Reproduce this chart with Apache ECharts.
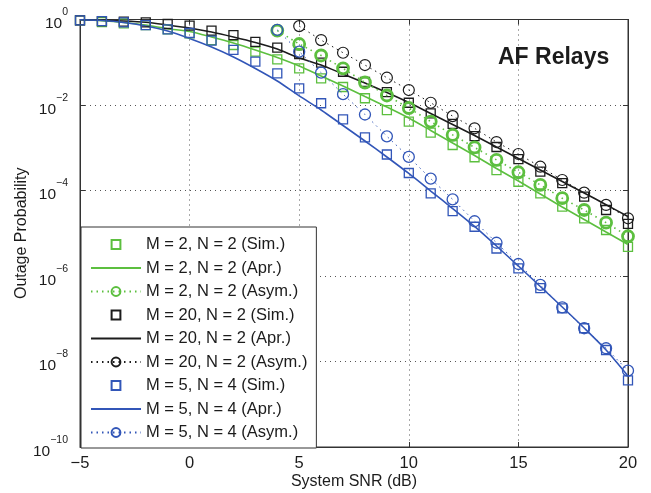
<!DOCTYPE html>
<html><head><meta charset="utf-8">
<script src="https://cdn.jsdelivr.net/npm/echarts@6/dist/echarts.min.js"></script>
<style>html,body{margin:0;padding:0;background:#fff}#c{width:651px;height:493px}</style>
</head><body><div id="c"></div>
<script>
// ---- data ----
const snr = [-5,-4,-3,-2,-1,0,1,2,3,4,5,6,7,8,9,10,11,12,13,14,15,16,17,18,19,20];
const xTicks = [-5,0,5,10,15,20];
const yTickExponents = [0,-2,-4,-6,-8,-10];

// M = 2, N = 2
const simM2N2 = [0.95,0.875,0.815,0.74,0.59,0.475,0.33,0.253,0.177,0.117,0.072,0.042,0.0264,0.0144,0.0076,0.0041,0.00225,0.00116,0.0006,0.0003,0.00016,8.6e-5,4.2e-5,2.24e-5,1.19e-5,4.8e-6];
const aprM2N2 = [0.984,0.933,0.851,0.743,0.609,0.524,0.39,0.282,0.194,0.129,0.0817,0.0477,0.0278,0.0158,0.00898,0.00497,0.00254,0.00129,0.000659,0.000327,0.000167,8.28e-5,4.11e-5,2.1e-5,1.07e-5,5.46e-6];
const asymSnrM2N2 = [4,5,6,7,8,9,10,11,12,13,14,15,16,17,18,19,20];
const asymM2N2 = [0.55,0.267,0.144,0.072,0.0336,0.0167,0.0085,0.0041,0.002,0.00102,0.00052,0.000267,0.000135,6.6e-5,3.5e-5,1.77e-5,8.5e-6];

// M = 20, N = 2
const simM20N2 = [0.95,0.92,0.89,0.86,0.785,0.72,0.55,0.43,0.30,0.22,0.156,0.098,0.060,0.0345,0.020,0.0113,0.0064,0.0036,0.00188,0.00104,0.00054,0.000275,0.000148,7.2e-5,3.5e-5,1.66e-5];
const aprM20N2 = [0.984,0.958,0.922,0.86,0.743,0.632,0.51,0.39,0.29,0.204,0.1257,0.0863,0.0531,0.0327,0.0196,0.01143,0.00632,0.0035,0.00194,0.00104,0.000561,0.000302,0.000163,8.75e-5,4.66e-5,2.47e-5];
const asymSnrM20N2 = [5,6,7,8,9,10,11,12,13,14,15,16,17,18,19,20];
const asymM20N2 = [0.70,0.33,0.167,0.086,0.0435,0.0224,0.0113,0.0055,0.00285,0.00136,0.000714,0.00036,0.000176,8.9e-5,4.6e-5,2.24e-5];

// M = 5, N = 4
const simM5N4 = [0.95,0.92,0.86,0.74,0.59,0.483,0.32,0.194,0.103,0.055,0.0246,0.011,0.0046,0.00175,0.000695,0.000257,8.6e-5,3.3e-5,1.42e-5,4.4e-6,1.51e-6,5.2e-7,1.75e-7,6.0e-8,1.86e-8,3.6e-9];
const aprM5N4 = [0.984,0.947,0.851,0.705,0.538,0.36,0.227,0.133,0.0715,0.0364,0.0163,0.00764,0.00331,0.00144,0.000608,0.00025,9.73e-5,3.79e-5,1.44e-5,5.03e-6,1.71e-6,5.68e-7,1.88e-7,6.08e-8,1.86e-8,4.58e-9];
const asymSnrM5N4 = [4,5,6,7,8,9,10,11,12,13,14,15,16,17,18,19,20];
const asymM5N4 = [0.57,0.177,0.057,0.0179,0.006,0.00185,0.00061,0.000189,6.2e-5,1.91e-5,6.0e-6,1.91e-6,6.2e-7,1.85e-7,6.0e-8,2.04e-8,6.1e-9];

const names = [
  'M = 2, N = 2 (Sim.)','M = 2, N = 2 (Apr.)','M = 2, N = 2 (Asym.)',
  'M = 20, N = 2 (Sim.)','M = 20, N = 2 (Apr.)','M = 20, N = 2 (Asym.)',
  'M = 5, N = 4 (Sim.)','M = 5, N = 4 (Apr.)','M = 5, N = 4 (Asym.)'
];

// ---- chart ----
const GREEN = '#5cbf3f', BLACK = '#1c1c1c', BLUE = '#3256b8';
const FONT = 'Liberation Sans, Arial, sans-serif';
const pairs = (xs, ys) => xs.map((x, i) => [x, ys[i]]);
const NONE = 'rgba(0,0,0,0)';

function sim(name, ys, color) {
  return { name, type: 'line', data: pairs(snr, ys), symbol: 'rect', symbolSize: 9,
    lineStyle: { width: 0, color }, itemStyle: { color: NONE, borderColor: color, borderWidth: 1.3 }, z: 4 };
}
function apr(name, ys, color) {
  return { name, type: 'line', data: pairs(snr, ys), symbol: 'none', smooth: 0.25,
    lineStyle: { width: 1.6, color }, itemStyle: { color }, z: 3 };
}
function asym(name, xs, ys, color, bw, lw) {
  return { name, type: 'line', data: pairs(xs, ys), symbol: 'circle', symbolSize: 11,
    lineStyle: { width: lw, color, type: [1.5, 4] },
    itemStyle: { color: NONE, borderColor: color, borderWidth: bw }, z: 5 };
}

const legendData = names.map(n => n.indexOf('(Apr.)') >= 0
  ? { name: n, itemStyle: { opacity: 0, color: NONE, borderWidth: 0 } }
  : { name: n });

const chart = echarts.init(document.getElementById('c'), null, { renderer: 'canvas' });
chart.setOption({
  animation: false,
  backgroundColor: '#fff',
  textStyle: { fontFamily: FONT },
  title: { text: 'AF Relays', left: 498, top: 46, padding: 0,
    textStyle: { fontSize: 23, fontWeight: 'bold', color: '#1c1c1c', fontFamily: FONT } },
  grid: { left: 80, right: 23, top: 19.5, bottom: 46, show: true, borderColor: '#333', borderWidth: 1,
    containLabel: false, outerBoundsMode: 'none' },
  legend: {
    orient: 'vertical', left: 81, top: 227, selectedMode: false,
    itemWidth: 50, itemHeight: 11, itemGap: 6.5,
    padding: [9, 9, 7, 9],
    backgroundColor: '#fff', borderColor: '#333', borderWidth: 1,
    textStyle: { fontSize: 16.5, color: '#1c1c1c', fontFamily: FONT },
    data: legendData
  },
  xAxis: [{
    type: 'value', min: -5, max: 20, interval: 5,
    name: 'System SNR (dB)', nameLocation: 'middle', nameGap: 27, nameMoveOverlap: false,
    nameTextStyle: { fontSize: 16, color: '#1c1c1c', fontFamily: FONT },
    axisLine: { show: true, onZero: false, lineStyle: { color: '#333' } },
    axisTick: { show: true, inside: true, length: 5, lineStyle: { color: '#333' } },
    axisLabel: { fontSize: 16.5, color: '#1c1c1c', margin: 8, fontFamily: FONT,
      formatter: v => (v < 0 ? '\u2212' + (-v) : String(v)) },
    splitLine: { show: true, lineStyle: { color: '#555', type: [1, 4], width: 1 } }
  }, {
    type: 'value', min: -5, max: 20, interval: 5, position: 'top',
    axisLine: { show: true, onZero: false, lineStyle: { color: '#333' } },
    axisTick: { show: true, inside: true, length: 5, lineStyle: { color: '#333' } },
    axisLabel: { show: false }, splitLine: { show: false }
  }],
  yAxis: [{
    type: 'log', logBase: 10, min: 1e-10, max: 1, interval: 2,
    name: 'Outage Probability', nameLocation: 'middle', nameGap: 50, nameMoveOverlap: false,
    nameTextStyle: { fontSize: 16, color: '#1c1c1c', fontFamily: FONT },
    axisLine: { show: true, onZero: false, lineStyle: { color: '#333' } },
    axisTick: { show: true, inside: true, length: 5, lineStyle: { color: '#333' } },
    axisLabel: {
      margin: 12, fontFamily: FONT,
      formatter: v => {
        const e = Math.round(Math.log10(v));
        if (yTickExponents.indexOf(e) < 0) return '';
        return '{b|10}{s|' + (e === 0 ? '0' : '\u2212' + (-e)) + '}';
      },
      rich: {
        b: { fontSize: 15.5, color: '#1c1c1c', fontFamily: FONT, lineHeight: 25, verticalAlign: 'bottom' },
        s: { fontSize: 10.5, color: '#1c1c1c', fontFamily: FONT, lineHeight: 25, verticalAlign: 'top' }
      }
    },
    splitLine: { show: true, lineStyle: { color: '#555', type: [1, 4], width: 1 } }
  }, {
    type: 'log', logBase: 10, min: 1e-10, max: 1, interval: 2, position: 'right',
    axisLine: { show: true, onZero: false, lineStyle: { color: '#333' } },
    axisTick: { show: true, inside: true, length: 5, lineStyle: { color: '#333' } },
    axisLabel: { show: false }, splitLine: { show: false }
  }],
  series: [
    sim(names[0], simM2N2, GREEN),
    apr(names[1], aprM2N2, GREEN),
    asym(names[2], asymSnrM2N2, asymM2N2, GREEN, 2.8, 1.6),
    sim(names[3], simM20N2, BLACK),
    apr(names[4], aprM20N2, BLACK),
    asym(names[5], asymSnrM20N2, asymM20N2, BLACK, 1.2, 1),
    sim(names[6], simM5N4, BLUE),
    apr(names[7], aprM5N4, BLUE),
    asym(names[8], asymSnrM5N4, asymM5N4, BLUE, 1.3, 1)
  ]
});
</script>
</body></html>
